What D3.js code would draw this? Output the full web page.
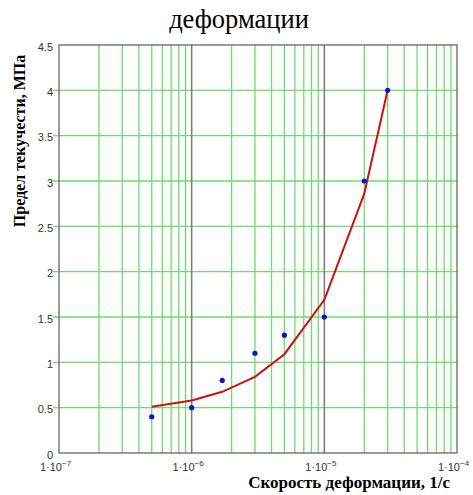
<!DOCTYPE html>
<html>
<head>
<meta charset="utf-8">
<script src="https://cdn.jsdelivr.net/npm/d3@7"></script>
<style>
  body { margin: 0; background: #fff; }
  svg { display: block; }
  .tick text { font-family: Arial, "Liberation Sans", sans-serif; font-size: 11px; fill: #333; }
</style>
</head>
<body>
<div id="chart"></div>
<script>
// measured points
const rate = [5e-7, 1e-6, 1.7e-6, 3e-6, 5e-6, 1e-5, 2e-5, 3e-5]
const stress = [0.4, 0.5, 0.8, 1.1, 1.3, 1.5, 3.0, 4.0]
// fitted curve
const fit = [0.51, 0.58, 0.675, 0.84, 1.09, 1.69, 2.86, 4.0]

const xTicks = [1e-7, 1e-6, 1e-5, 1e-4]
const xExp = ['7', '6', '5', '4']
const yTicks = [0, 0.5, 1, 1.5, 2, 2.5, 3, 3.5, 4, 4.5]

const width = 473
const height = 495
const plotLeft = 59, plotRight = 457, plotTop = 45, plotBottom = 453

const svg = d3.select('#chart').append('svg')
  .attr('width', width)
  .attr('height', height)

const x = d3.scaleLog().domain([1e-7, 1e-4]).range([plotLeft, plotRight])
const y = d3.scaleLinear().domain([0, 4.5]).range([plotBottom, plotTop])

// vertical minor grid (2..9 of each decade)
const minor = x.ticks().filter(t => !xTicks.some(d => Math.abs(d - t) / d < 1e-6))
svg.append('g').selectAll('line')
  .data(minor)
  .enter().append('line')
  .attr('x1', d => x(d)).attr('x2', d => x(d))
  .attr('y1', plotTop).attr('y2', plotBottom)
  .attr('stroke', '#6ddc6d')
  .attr('stroke-width', 1.3)

// horizontal grid
svg.append('g').selectAll('line')
  .data(yTicks.filter(v => v > 0 && v < 4.5))
  .enter().append('line')
  .attr('x1', plotLeft - 6).attr('x2', plotRight)
  .attr('y1', d => y(d)).attr('y2', d => y(d))
  .attr('stroke', '#6ddc6d')
  .attr('stroke-width', 1.3)

// decade lines
svg.append('g').selectAll('line')
  .data(xTicks.slice(1, 3))
  .enter().append('line')
  .attr('x1', d => x(d)).attr('x2', d => x(d))
  .attr('y1', plotTop).attr('y2', plotBottom)
  .attr('stroke', '#7a7a7a')
  .attr('stroke-width', 1.5)

// frame
svg.append('rect')
  .attr('x', plotLeft).attr('y', plotTop)
  .attr('width', plotRight - plotLeft).attr('height', plotBottom - plotTop)
  .attr('fill', 'none')
  .attr('stroke', '#666')
  .attr('stroke-width', 1.3)

// y axis labels
const yAxis = d3.axisLeft(y).tickValues(yTicks).tickSize(0).tickPadding(6)
  .tickFormat(d => String(d))
const gy = svg.append('g').attr('transform', `translate(${plotLeft},1.5)`).call(yAxis)
gy.select('.domain').remove()

// x axis labels with superscript exponent
const xAxis = d3.axisBottom(x).tickValues(xTicks).tickSize(0).tickPadding(10).tickFormat(() => '')
const gx = svg.append('g').attr('transform', `translate(0,${plotBottom})`).call(xAxis)
gx.select('.domain').remove()
gx.selectAll('.tick text').each(function(d, i) {
  const t = d3.select(this).attr('dx', '-4px')
  t.append('tspan').text('1·10')
  t.append('tspan').text('−' + xExp[i]).attr('dy', '-0.6em').style('font-size', '8px')
})

// fitted curve
const line = d3.line()
  .x((d, i) => x(rate[i]))
  .y(d => y(d))
svg.append('path')
  .datum(fit)
  .attr('d', line)
  .attr('fill', 'none')
  .attr('stroke', '#cc1111')
  .attr('stroke-width', 2)

// points
svg.append('g').selectAll('circle')
  .data(stress)
  .enter().append('circle')
  .attr('cx', (d, i) => x(rate[i]))
  .attr('cy', d => y(d))
  .attr('r', 2.6)
  .attr('fill', '#0a14c8')

// titles
svg.append('text')
  .attr('x', 239).attr('y', 28)
  .attr('text-anchor', 'middle')
  .style('font-family', '"Liberation Serif", "Times New Roman", serif')
  .style('font-size', '26.5px')
  .text('деформации')

svg.append('text')
  .attr('transform', `translate(25,141) rotate(-90)`)
  .attr('text-anchor', 'middle')
  .style('font-family', '"Liberation Serif", "Times New Roman", serif')
  .style('font-size', '16px')
  .style('font-weight', 'bold')
  .text('Предел текучести, МПа')

svg.append('text')
  .attr('x', 450).attr('y', 488)
  .attr('text-anchor', 'end')
  .style('font-family', '"Liberation Serif", "Times New Roman", serif')
  .style('font-size', '17px')
  .style('font-weight', 'bold')
  .text('Скорость деформации, 1/с')
</script>
</body>
</html>
